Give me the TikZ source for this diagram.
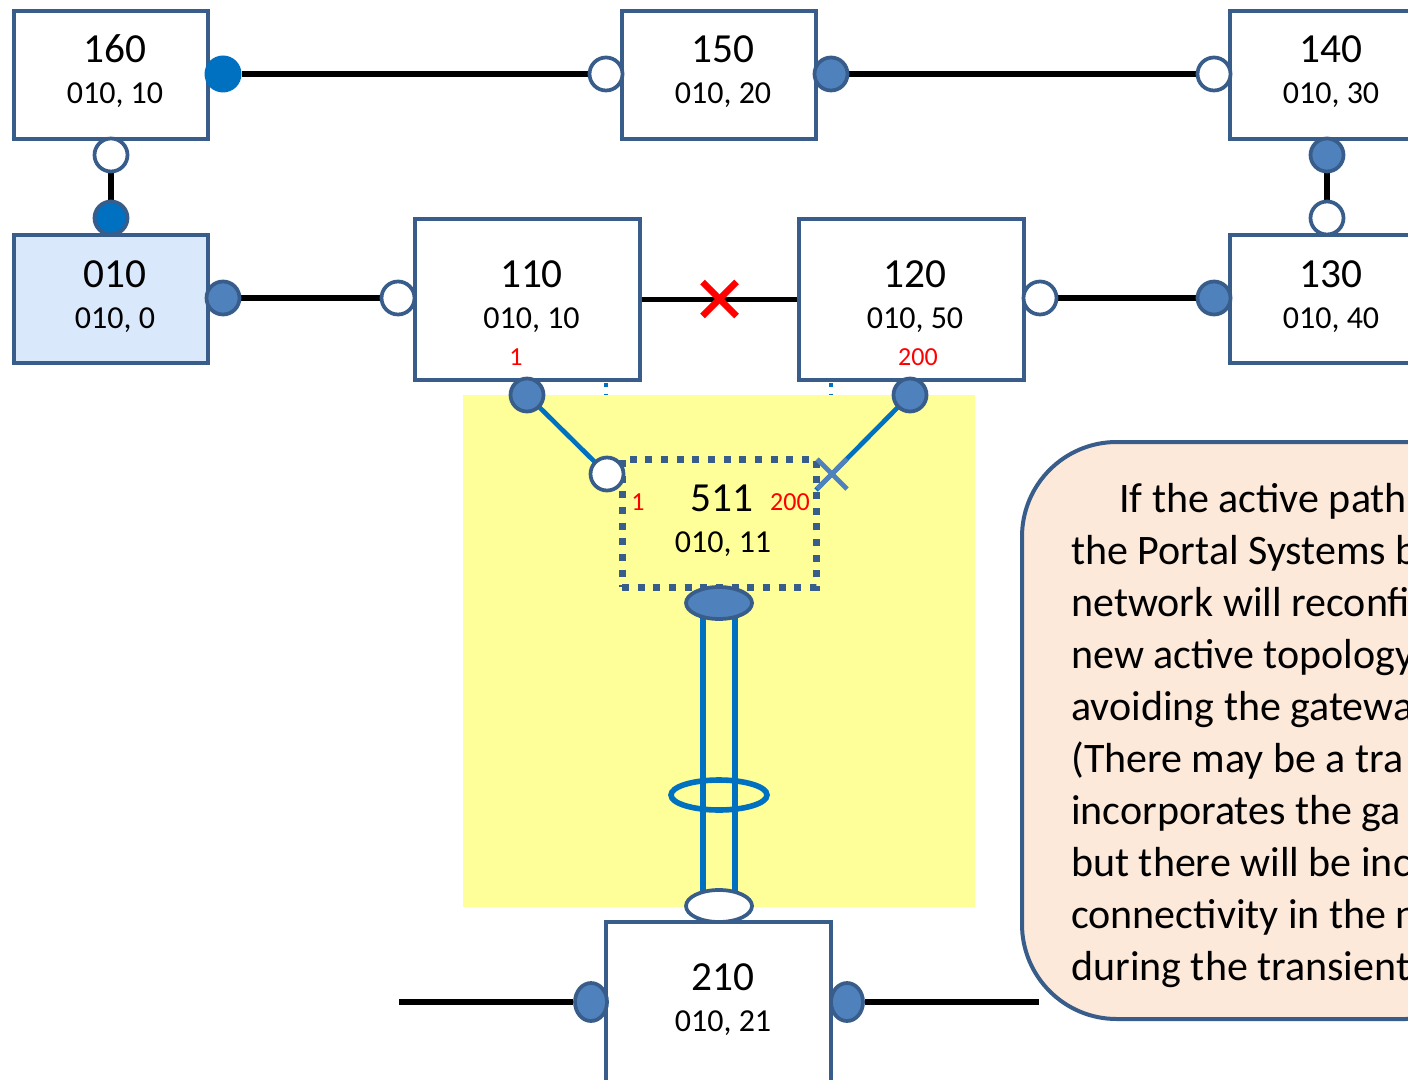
\documentclass[tikz,border=0pt]{standalone}
\usepackage{fontspec}
\setmainfont{Carlito}
\usetikzlibrary{shapes.geometric}
\definecolor{bord}{HTML}{385D8A}
\definecolor{portf}{HTML}{4F81BD}
\definecolor{bblue}{HTML}{0070C0}
\definecolor{yel}{HTML}{FFFF99}
\definecolor{peach}{HTML}{FDE9D9}
\definecolor{paleblue}{HTML}{D9E8FB}
\pgfdeclarelayer{back}
\pgfdeclarelayer{mid}
\pgfsetlayers{back,mid,main}
\begin{document}
\begin{tikzpicture}[x=0.75pt,y=-0.75pt,
  box/.style={draw=bord,line width=3pt,fill=white,minimum width=145.5pt,minimum height=96pt,inner sep=0pt},
  bigbox/.style={box,minimum width=168.75pt,minimum height=120.75pt},
  num/.style={anchor=base,font=\fontsize{31}{37}\selectfont,inner sep=0pt},
  sub/.style={anchor=base,font=\fontsize{24}{29}\selectfont,inner sep=0pt},
  redlab/.style={anchor=base,text=red,font=\fontsize{19.5}{23}\selectfont,inner sep=0pt},
  openp/.style={circle,draw=bord,line width=2.8pt,fill=white,minimum size=24.75pt,inner sep=0pt},
  fullp/.style={openp,fill=portf},
  brightp/.style={openp,fill=bblue},
  openel/.style={ellipse,draw=bord,line width=2.8pt,fill=white,minimum width=49.5pt,minimum height=24pt,inner sep=0pt},
  fullel/.style={openel,fill=portf},
  sideel/.style={fullel,minimum width=24pt,minimum height=28.5pt},
  link/.style={line width=4.3pt,black},
  blink/.style={line width=3.5pt,bblue},
  notetext/.style={anchor=base west,font=\fontsize{31.5}{39}\selectfont,inner sep=0pt}
]
\useasboundingbox (0,0) rectangle (1408,1080);
\clip (0,0) rectangle (1408,1080);

% boxes
\node[box] (b160) at (111,75) {};
\node[box] (b150) at (719,75) {};
\node[box] (b140) at (1327,75) {};
\node[box,fill=paleblue] (b010) at (111,299) {};
\node[bigbox] (b110) at (527.5,299.5) {};
\node[bigbox] (b120) at (911,299.5) {};
\node[box] (b130) at (1327,299) {};
\node[box,fill=none,draw=bord,line width=5.25pt,dash pattern=on 5.25pt off 6.5pt] (b511) at (719,523) {};
\node[bigbox,minimum height=150pt] (b210) at (718.5,1022) {};

% background: dotted stubs and yellow area
\begin{pgfonlayer}{back}
\fill[white] (0,0) rectangle (1408,1080);
\draw[bblue,line width=3pt,dash pattern=on 3pt off 5pt] (606,383) -- (606,400);
\draw[bblue,line width=3pt,dash pattern=on 3pt off 5pt] (831,383) -- (831,400);
\fill[yel] (463,395) rectangle (975,907);
\end{pgfonlayer}

% labels
\node[num] (t160) at (115,63) {160};
\node[sub] (s160) at (115,104) {010, 10};
\node[num] (t150) at (723,63) {150};
\node[sub] (s150) at (723,104) {010, 20};
\node[num] (t140) at (1331,63) {140};
\node[sub] (s140) at (1331,104) {010, 30};
\node[num] (t010) at (115,287) {010};
\node[sub] (s010) at (115,328) {010, 0};
\node[num] (t110) at (531.5,287) {110};
\node[sub] (s110) at (531.5,328) {010, 10};
\node[redlab] (r110) at (516,365) {1};
\node[num] (t120) at (915,287) {120};
\node[sub] (s120) at (915,328) {010, 50};
\node[redlab] (r120) at (918,365) {200};
\node[num] (t130) at (1331,287) {130};
\node[sub] (s130) at (1331,328) {010, 40};
\node[num] (t511) at (722,511) {511};
\node[sub] (s511) at (723,552) {010, 11};
\node[redlab] (r511a) at (638,510) {1};
\node[redlab] (r511b) at (790,510) {200};
\node[num] (t210) at (723,990) {210};
\node[sub] (s210) at (723,1031) {010, 21};

% ports
\node[fill=bblue,circle,minimum size=27.75pt,inner sep=0pt] (p160r) at (223,74) {};
\node[openp] (p150l) at (606,74) {};
\node[fullp] (p150r) at (831,74) {};
\node[openp] (p140l) at (1214,74) {};
\node[openp] (p160b) at (111,155) {};
\node[brightp] (p010t) at (111,218) {};
\node[fullp] (p140b) at (1327,155) {};
\node[openp] (p130t) at (1327,218) {};
\node[fullp] (p010r) at (223,298) {};
\node[openp] (p110l) at (398,298) {};
\node[openp] (p120r) at (1040,298) {};
\node[fullp] (p130l) at (1214,298) {};
\node[fullp] (p110b) at (527,395) {};
\node[fullp] (p120b) at (910,395) {};
\node[openp] (p511l) at (607,474) {};
\node[fullel] (p511b) at (719,603) {};
\node[openel] (p210t) at (719,906) {};
\node[sideel] (p210l) at (591,1002) {};
\node[sideel] (p210r) at (847,1002) {};
\coordinate (c511r) at (816,490);
\coordinate (wl) at (399,1002);
\coordinate (wr) at (1039,1002);

% links
\begin{pgfonlayer}{mid}
\draw[link] (p160r) -- (p150l);
\draw[link] (p150r) -- (p140l);
\draw[link] (p160b) -- (p010t);
\draw[link] (p140b) -- (p130t);
\draw[link] (p010r) -- (p110l);
\draw[link] (b110.east) -- (b120.west);
\draw[link] (p120r) -- (p130l);
\draw[link] (p210l) -- (wl);
\draw[link] (p210r) -- (wr);
\draw[blink] (p110b.center) -- (p511l.center);
\draw[blink] (p120b.center) -- (c511r);
\draw[bblue,line width=4.2pt] ([xshift=-12pt]p511b.center) -- ([xshift=-12pt]p210t.center);
\draw[bblue,line width=4.2pt] ([xshift=12pt]p511b.center) -- ([xshift=12pt]p210t.center);
\end{pgfonlayer}
\node[ellipse,draw=bblue,line width=4.2pt,minimum width=72pt,minimum height=22.5pt,inner sep=0pt] (ring) at (719,795) {};

% failure marks
\coordinate (xr) at (719.5,299);
\draw[red,line width=4.8pt] ([shift={(-17,-17)}]xr) -- ([shift={(17,17)}]xr);
\draw[red,line width=4.8pt] ([shift={(-17,17)}]xr) -- ([shift={(17,-17)}]xr);
\coordinate (xb) at (832,474);
\draw[portf,line width=3.6pt] ([shift={(-15,-15)}]xb) -- ([shift={(15,15)}]xb);
\draw[portf,line width=3.6pt] ([shift={(-15,15)}]xb) -- ([shift={(15,-15)}]xb);

% note
\node[draw=bord,line width=3pt,fill=peach,rounded corners=71pt,minimum width=358.5pt,minimum height=432.75pt,inner sep=0pt] (note) at (1261,730.5) {};
\node[notetext] (n1) at (1119,512) {If the active path};
\node[notetext] (n2) at (1071,564) {the Portal Systems b};
\node[notetext] (n3) at (1071,616) {network will reconfi};
\node[notetext] (n4) at (1071,668) {new active topology};
\node[notetext] (n5) at (1071,720) {avoiding the gatewa};
\node[notetext] (n6) at (1071,772) {(There may be a tra};
\node[notetext] (n7) at (1071,824) {incorporates the ga};
\node[notetext] (n8) at (1071,876) {but there will be inc};
\node[notetext] (n9) at (1071,928) {connectivity in the n};
\node[notetext] (n10) at (1071,980) {during the transient};
\end{tikzpicture}
\end{document}
